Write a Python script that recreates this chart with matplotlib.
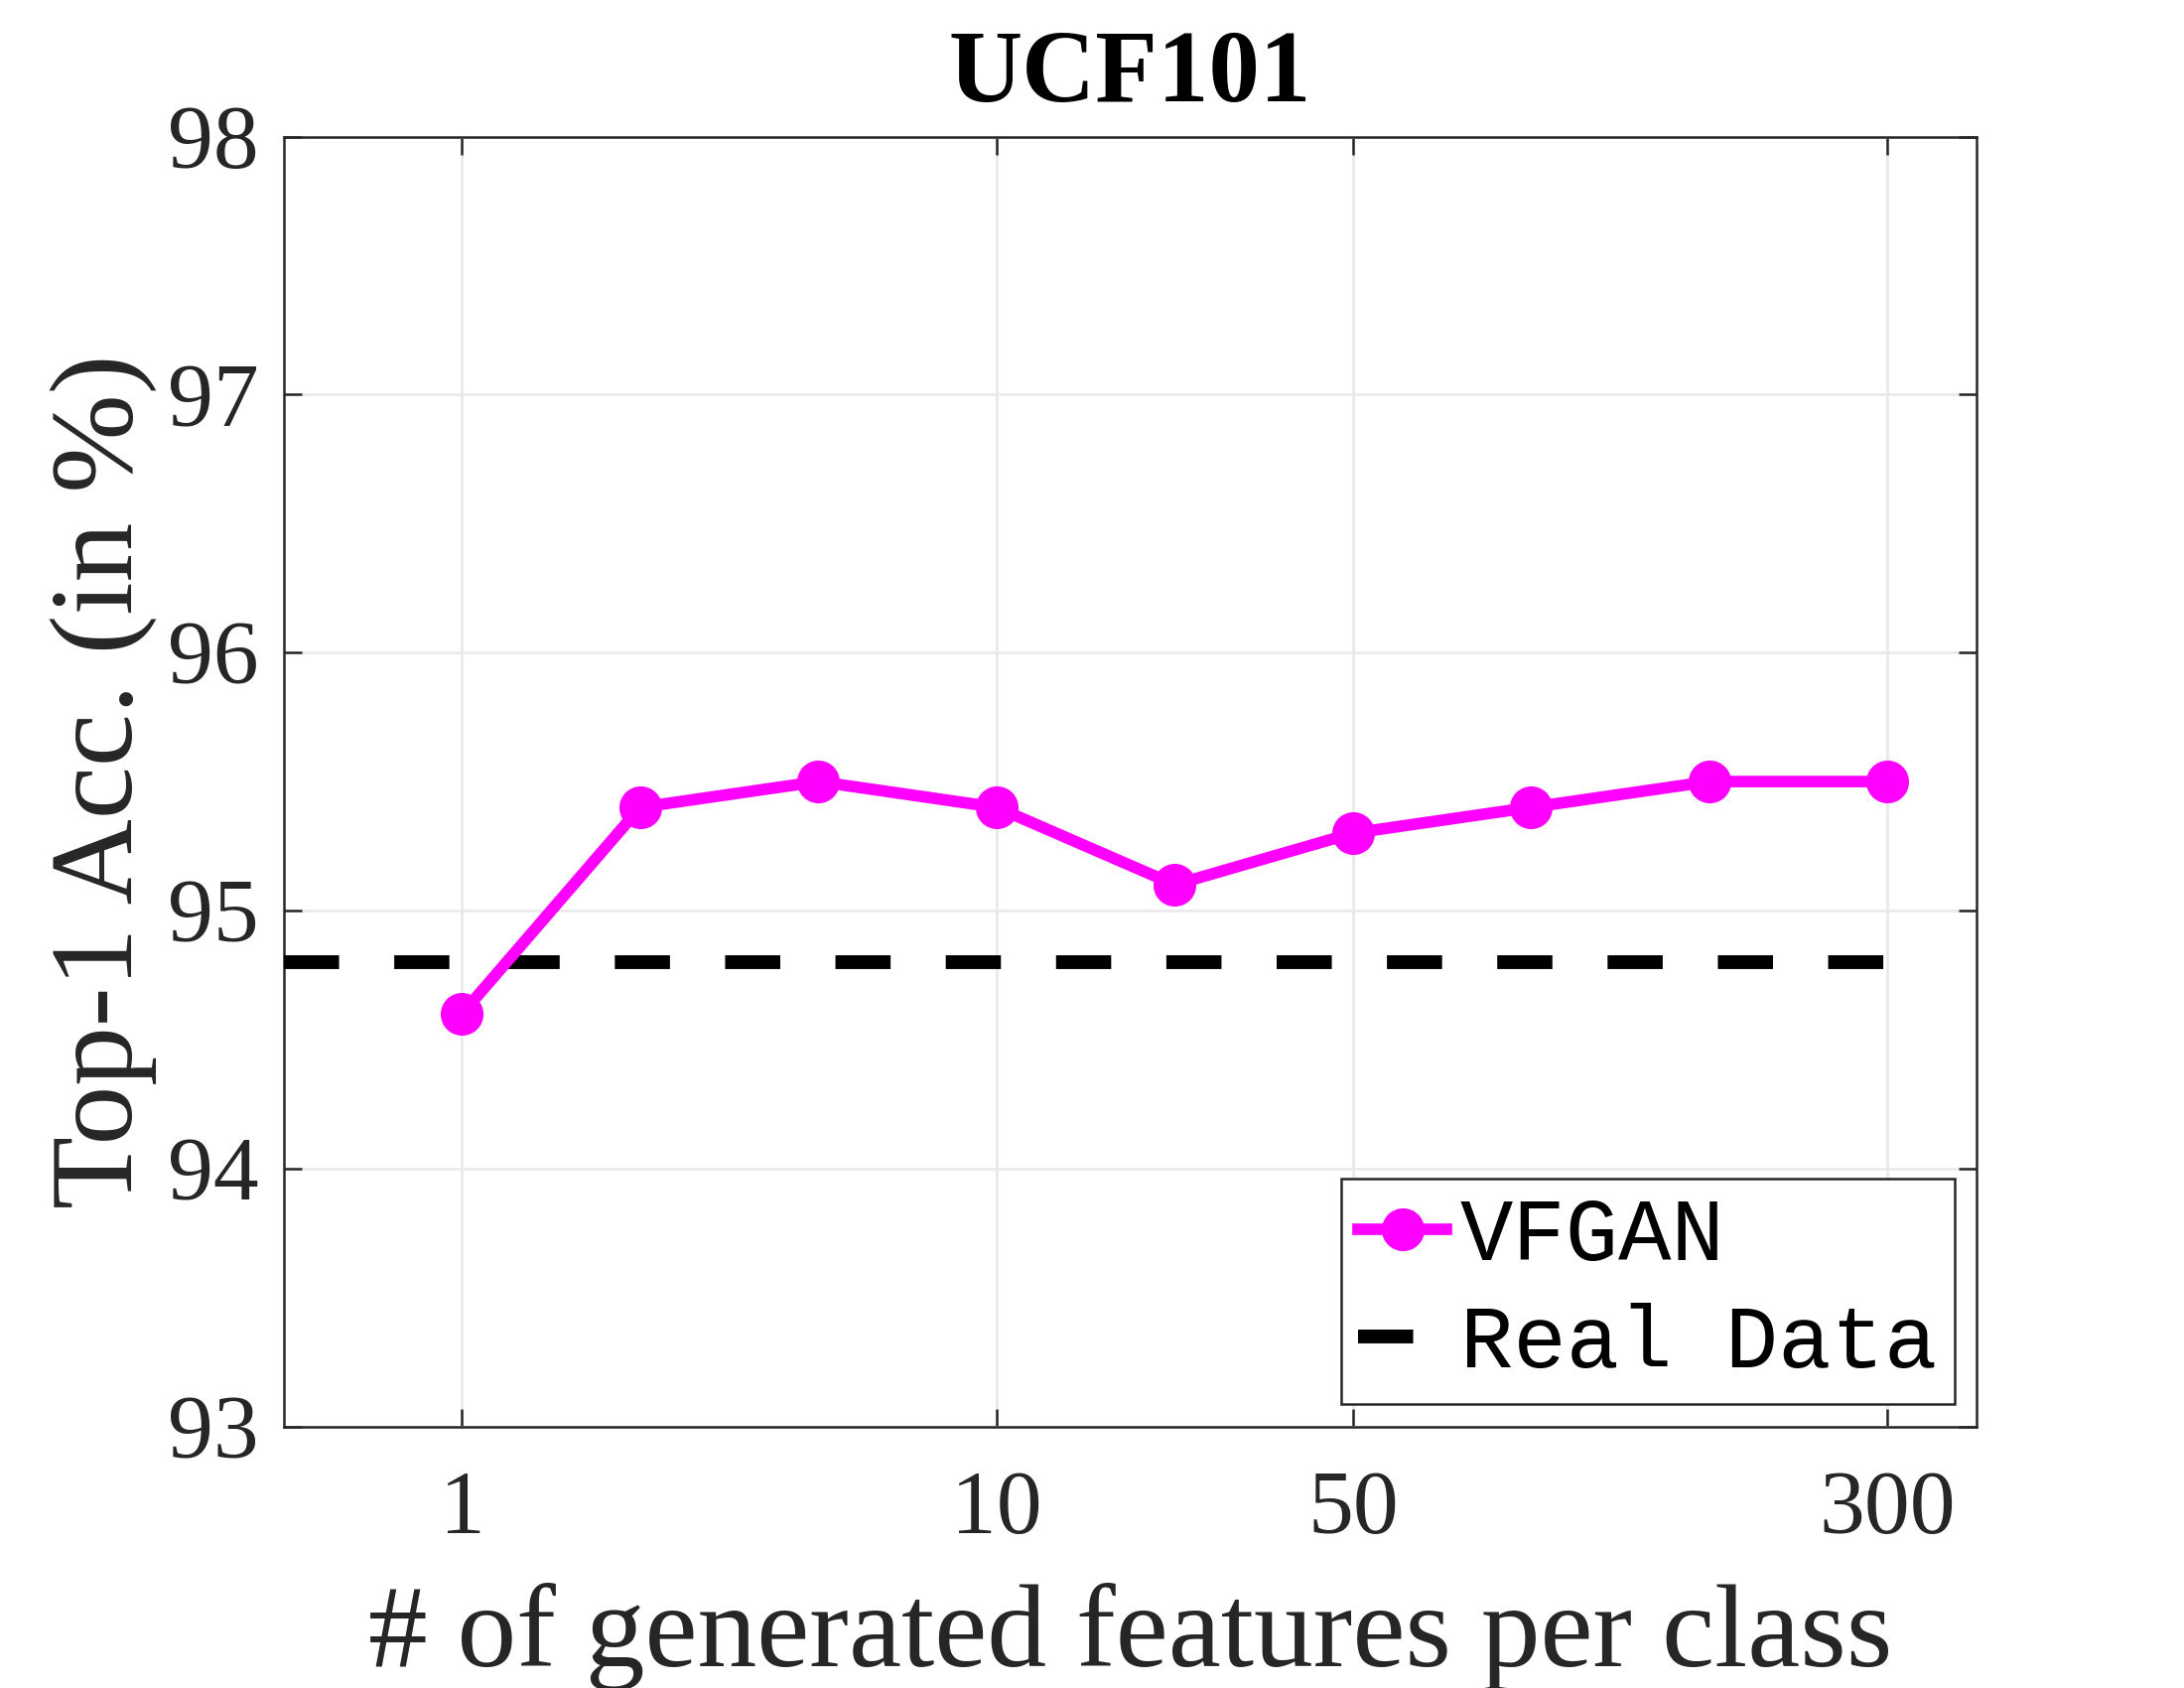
import matplotlib
matplotlib.use("Agg")
import matplotlib.pyplot as plt

# data
positions = [1, 2, 3, 4, 5, 6, 7, 8, 9]
vfgan_acc = [94.6, 95.4, 95.5, 95.4, 95.1, 95.3, 95.4, 95.5, 95.5]
real_data_acc = 94.8
tick_pos = [1, 4, 6, 9]
tick_labels = ["1", "10", "50", "300"]
y_ticks = [93, 94, 95, 96, 97, 98]

plt.rcParams["font.family"] = ["Liberation Serif", "DejaVu Serif"]
dark = "#262626"

fig = plt.figure(figsize=(11, 8.5), dpi=200)
ax = fig.add_axes([0.130, 0.155, 0.775, 0.764])

ax.plot([0, positions[-1]], [real_data_acc, real_data_acc], color="black",
        lw=5, linestyle=(0, (4, 4)), dash_capstyle="butt", label="Real Data", zorder=3)
ax.plot(positions, vfgan_acc, color="#ff00ff", lw=4.2, marker="o", markersize=14.5,
        label="VFGAN", zorder=4)

ax.set_xlim(0, 9.5)
ax.set_ylim(93, 98)
ax.set_xticks(tick_pos)
ax.set_xticklabels(tick_labels)
ax.set_yticks(y_ticks)

ax.grid(True, color="#e8e8e8", lw=0.9)
ax.set_axisbelow(True)
for s in ax.spines.values():
    s.set_color(dark)
    s.set_linewidth(0.9)

ax.tick_params(axis="both", direction="in", length=6.5, width=0.9, color=dark,
               labelcolor=dark, labelsize=33, top=True, right=True)
ax.tick_params(axis="x", pad=16)
ax.tick_params(axis="y", pad=9)

ax.set_title("UCF101", fontsize=37, fontweight="bold", color="black", pad=13)
ax.set_xlabel("# of generated features per class", fontsize=43, color=dark, labelpad=11)
ax.set_ylabel("Top-1 Acc. (in %)", fontsize=43, color=dark, labelpad=4)

handles, labels = ax.get_legend_handles_labels()
leg = ax.legend(handles[::-1], labels[::-1], loc="lower right",
                prop={"family": "Liberation Mono", "size": 32},
                handlelength=1.0, handletextpad=0.15, borderpad=0.2,
                labelspacing=0.27, borderaxespad=0.25, fancybox=False,
                framealpha=1, edgecolor=dark)
leg.get_frame().set_linewidth(0.9)
for t in leg.get_texts():
    t.set_color("black")

fig.savefig("out.png", dpi=200)
